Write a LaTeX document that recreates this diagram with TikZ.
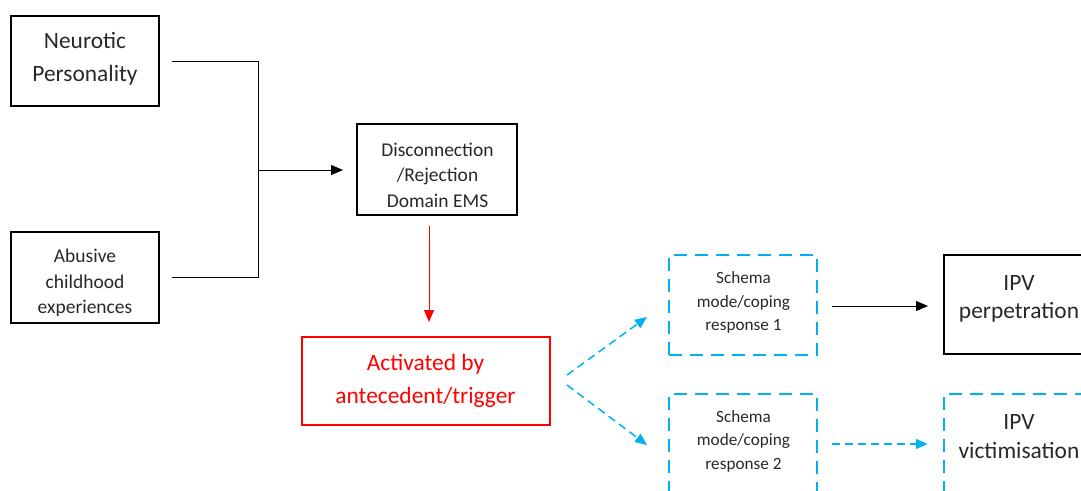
\documentclass[tikz,border=0pt]{standalone}
\usepackage{fontspec}
\setmainfont{Carlito}
\usetikzlibrary{arrows.meta,calc}
\definecolor{txt}{RGB}{40,40,40}
\definecolor{sky}{RGB}{0,176,240}
\definecolor{lred}{RGB}{255,0,0}
\tikzset{
  box/.style={draw=black, line width=2pt, minimum width=148pt, minimum height=90pt, inner sep=0pt},
  lbl/.style={align=center, text=txt, inner sep=0pt},
  bigtxt/.style={lbl, font=\fontsize{23.4}{33}\selectfont},
  ipvtxt/.style={lbl, font=\fontsize{23.4}{28.5}\selectfont},
  smalltxt/.style={lbl, font=\fontsize{19.5}{25.5}\selectfont},
  schtxt/.style={lbl, font=\fontsize{17.2}{23.5}\selectfont},
  dbox/.style={box, draw=sky, line width=2.5pt, dash pattern=on 13pt off 8pt},
  conn/.style={draw=black, line width=1pt},
  tip/.style={-{Triangle[length=12pt,width=10pt]}},
  bluearrow/.style={draw=sky, line width=1.5pt, dash pattern=on 8pt off 5pt, tip},
}
\begin{document}
\begin{tikzpicture}[x=1pt,y=-1pt]
\useasboundingbox (0,0) rectangle (1081,490);
\clip (0,0) rectangle (1081,490);
% boxes
\node[box, minimum height=90pt] (n) at (85,61) {};
\node[box, minimum height=91pt] (a) at (85,277.5) {};
\node[box, minimum width=160pt, minimum height=91pt] (d) at (437,169.5) {};
\node[box, draw=lred, minimum width=248pt, minimum height=88pt] (r) at (426,381) {};
\node[dbox, minimum height=100pt] (s1) at (743,305) {};
\node[dbox, minimum height=100pt] (s2) at (743,444) {};
\node[box, minimum height=99pt] (p) at (1018,304.5) {};
\node[dbox, minimum height=100pt] (v) at (1018,444) {};
% texts
\node[bigtxt] (n-t) at (85,59) {Neurotic\\Personality};
\node[smalltxt] (a-t) at (85,283) {Abusive\\childhood\\experiences};
\node[smalltxt] (d-t) at (437.5,175) {Disconnection\\/Rejection\\Domain EMS};
\node[bigtxt, text=lred] (r-t) at (425.5,381) {Activated by\\antecedent/trigger};
\node[schtxt] (s1-t) at (743.5,302.5) {Schema\\mode/coping\\response 1};
\node[schtxt] (s2-t) at (743.5,441) {Schema\\mode/coping\\response 2};
\node[ipvtxt] (p-t) at (1019,299) {IPV\\perpetration};
\node[ipvtxt] (v-t) at (1019,436.5) {IPV\\victimisation};
% connectors
\coordinate (j) at (258,170);
\draw[conn, shorten <=12pt] (n.east) -| (j);
\draw[conn, shorten >=12pt] (j) |- (a.east);
\draw[conn, tip, shorten >=13pt] (j) -- (d.west |- j);
\draw[draw=lred, line width=1pt, tip, shorten <=10pt, shorten >=14pt] (d.south -| 429,0) -- (r.north -| 429,0);
\coordinate (b1) at (567,375);
\coordinate (b2) at (567,385);
\coordinate (t1) at (647,317);
\coordinate (t2) at (647,445);
\draw[bluearrow] (b1) -- (t1);
\draw[bluearrow] (b2) -- (t2);
\draw[conn, tip, shorten <=14pt, shorten >=15pt] (s1.east |- 0,306) -- (p.west |- 0,306);
\draw[bluearrow, shorten <=14pt, shorten >=15pt] (s2.east) -- (v.west);
\end{tikzpicture}
\end{document}
